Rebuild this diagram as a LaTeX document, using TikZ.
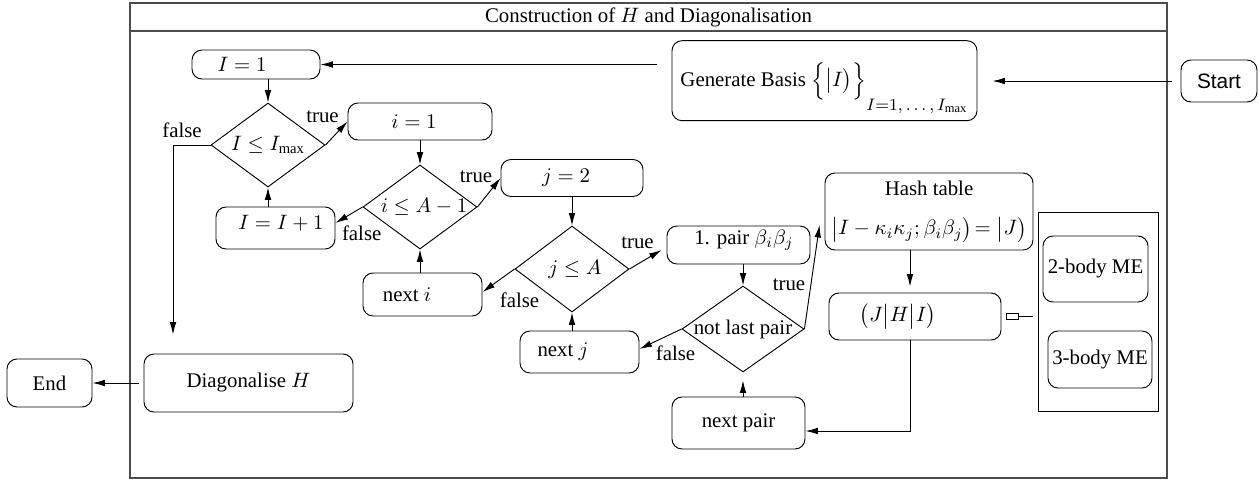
\documentclass[tikz,border=0pt]{standalone}
\usepackage{fontspec}
\setmainfont{Liberation Serif}
\newfontfamily\startfont{Liberation Sans}
\usetikzlibrary{shapes.geometric,arrows.meta}
\begin{document}
\begin{tikzpicture}[x=0.48pt,y=-0.48pt,
  box/.style={draw, rounded corners=4.8pt, line width=0.45pt, inner sep=0pt},
  dec/.style={draw, diamond, inner sep=0pt, line width=0.45pt},
  plain/.style={draw, line width=0.4pt, inner sep=0pt},
  lab/.style={inner sep=0pt},
  frame/.style={draw=black!70, line width=0.5pt},
  arr/.style={-{Latex[length=6pt,width=3.2pt]}, line width=0.45pt},
  ln/.style={line width=0.45pt}]
\useasboundingbox (0,0) rectangle (1259,481);
% frame
\draw[frame] (130,3) rectangle (1167,478);
\draw[frame] (130,31) -- (1167,31);
\node[lab] (title) at (648.5,17) {Construction of $H$ and Diagonalisation};
% nodes
\node[box, minimum width=36.48pt, minimum height=20.16pt, font=\startfont] (Start) at (1219,81) {Start};
\node[box, minimum width=146.4pt, minimum height=38.4pt, text height=8pt, text depth=2.8pt] (GB) at (824.5,80.7) {Generate Basis $\Bigl\{\bigl|I\bigr)\Bigr\}_{\raisebox{-4.8pt}{\footnotesize$I{=}1,\ldots,I_{\mathrm{max}}$}}$};
\node[box, minimum width=61.44pt, minimum height=13.92pt] (I1) at (256,64.5) {\hspace*{-13.44pt}$I=1$};
\node[dec, minimum width=54.72pt, minimum height=40.32pt] (D1) at (268,145) {\makebox[0pt]{$I\le I_{\mathrm{max}}$}};
\node[box, minimum width=69.12pt, minimum height=17.76pt] (i1) at (420,121.5) {\hspace*{-5.76pt}$i=1$};
\node[dec, minimum width=54.72pt, minimum height=40.32pt] (D2) at (420,207) {\makebox[0pt]{\hspace*{3.84pt}$i\le A-1$}};
\node[box, minimum width=57.12pt, minimum height=20.16pt, text height=7pt, text depth=5.8pt] (I2) at (275.5,228) {\hspace*{5.28pt}$I=I+1$};
\node[box, minimum width=68.16pt, minimum height=17.76pt] (j2) at (572,178) {\hspace*{-5.76pt}$j=2$};
\node[dec, minimum width=54.72pt, minimum height=41.28pt] (D3) at (572,269) {\makebox[0pt]{\hspace*{2.88pt}$j\le A$}};
\node[box, minimum width=57.12pt, minimum height=20.64pt] (ni) at (422.5,294.5) {\hspace*{-14.88pt}next $i$};
\node[box, minimum width=68.64pt, minimum height=18.24pt, text height=7pt, text depth=7.6pt] (P1) at (738.5,245) {\hspace*{5.28pt}1. pair $\beta_i\beta_j$};
\node[dec, minimum width=58.56pt, minimum height=41.28pt] (D4) at (743,329) {\makebox[0pt]{not last pair}};
\node[box, minimum width=57.12pt, minimum height=20.16pt] (nj) at (579.5,352) {\hspace*{-15.84pt}next $j$};
\node[box, minimum width=63.84pt, minimum height=24.96pt] (NP) at (738.5,423) {next pair};
\node[box, minimum width=99.84pt, minimum height=36.96pt, align=center] (HT) at (929,211.5) {Hash table\\[7pt]$\bigl|I-\kappa_i\kappa_j;\beta_i\beta_j\bigr)\!=\bigl|J\bigr)$};
\node[box, minimum width=82.56pt, minimum height=22.56pt] (JHI) at (915,316.5) {\hspace*{-16.32pt}$\bigl(J\bigr|H\bigr|I\bigr)$};
\node[plain, minimum width=5.76pt, minimum height=2.88pt] (conn) at (1012,316) {};
\node[plain, minimum width=57.6pt, minimum height=95.52pt] (ME) at (1098,311.5) {};
\node[box, minimum width=50.4pt, minimum height=31.68pt] (B2) at (1095.5,269) {2-body ME};
\node[box, minimum width=49.92pt, minimum height=27.36pt] (B3) at (1100,359.5) {3-body ME};
\node[box, minimum width=100.32pt, minimum height=27.84pt] (Diag) at (248.5,383) {Diagonalise $H$};
\node[box, minimum width=40.8pt, minimum height=23.04pt] (End) at (49.5,383) {End};
% labels
\node[lab] (t1) at (322.5,117) {true};
\node[lab] (f1) at (182,130) {false};
\node[lab] (t2) at (476,177) {true};
\node[lab] (f2) at (361.7,233) {false};
\node[lab] (t3) at (637.5,243) {true};
\node[lab] (f3) at (519.5,300) {false};
\node[lab] (t4) at (789,285) {true};
\node[lab] (f4) at (675.5,353) {false};
% connectors
\draw[arr, shorten <=4.3pt, shorten >=7.2pt] (Start.west) -- (Start.west -| GB.east);
\draw[arr, shorten <=7.2pt] (GB.west |- I1.east) -- (I1.east);
\draw[arr] (I1.south -| D1.north) -- (D1.north);
\draw[arr] (D1.east) -- (i1.west);
\draw[arr, shorten >=9.1pt] (D1.west) -| ([xshift=-36.24pt]Diag.north);
\draw[arr] (i1.south) -- (D2.north);
\draw[arr] (D2.east) -- (j2.west);
\draw[arr] (D2.west) -- ([yshift=2.4pt]I2.east);
\draw[arr] (I2.north -| D1.south) -- (D1.south);
\draw[arr] (j2.south) -- (D3.north);
\draw[arr] (D3.east) -- ([xshift=-2.4pt,yshift=-2.4pt]P1.west);
\draw[arr] (D3.west) -- ([yshift=1.2pt]ni.east);
\draw[arr] (ni.north -| D2.south) -- (D2.south);
\draw[arr] (P1.south -| D4.north) -- (D4.north);
\draw[arr] (D4.east) -- ([xshift=-2.4pt,yshift=-6.48pt]HT.west);
\draw[arr] (D4.west) -- ([yshift=1.44pt]nj.east);
\draw[arr] (nj.north -| D3.south) -- (D3.south);
\draw[arr, shorten >=3.84pt] (NP.north -| D4.south) -- (D4.south);
\draw[arr, shorten >=2.88pt] ([xshift=-9.12pt]HT.south) -- ([xshift=-9.12pt]HT.south |- JHI.north);
\draw[arr] ([xshift=-2.4pt]JHI.south) |- ([yshift=-3.84pt]NP.east);
\draw[ln, shorten >=2.4pt] (conn.east) -- (conn.east -| ME.west);
\draw[arr, shorten <=2.4pt] (Diag.west) -- (End.east);
\end{tikzpicture}
\end{document}
